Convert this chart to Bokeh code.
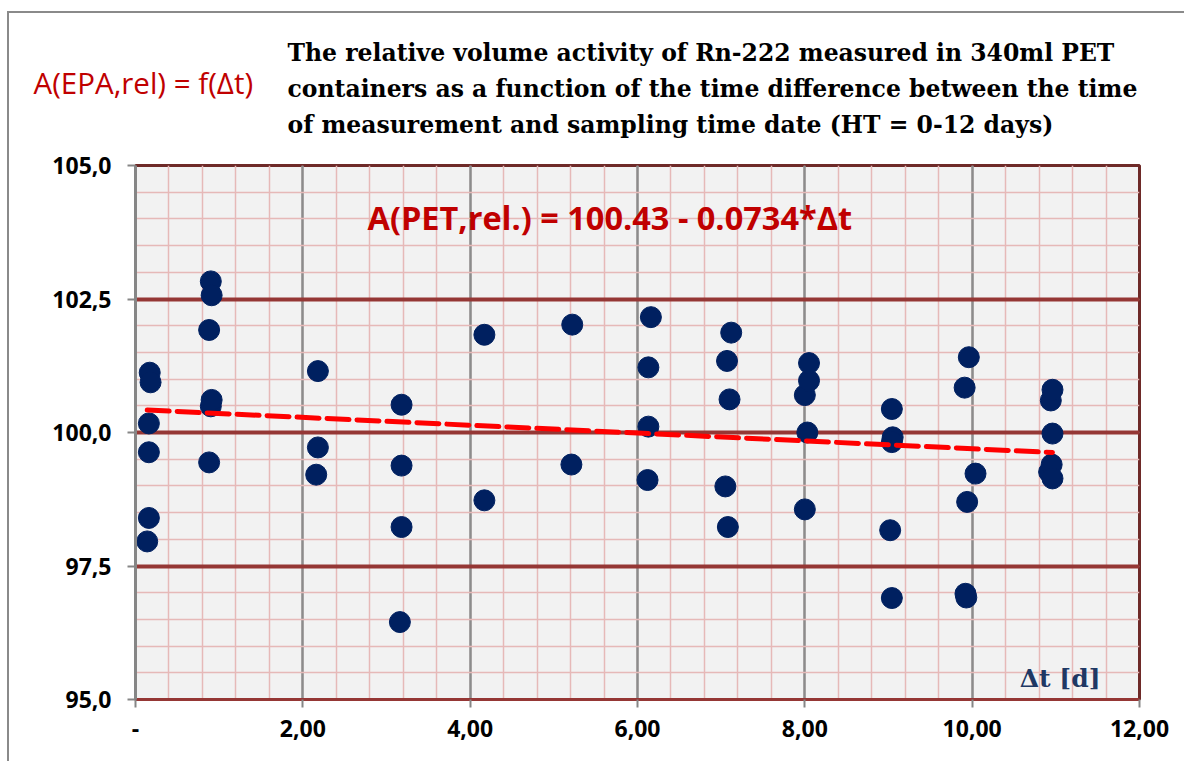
from bokeh.plotting import figure
from bokeh.layouts import column, row
from bokeh.models import Range1d, SingleIntervalTicker, Label, ColumnDataSource
from bokeh.embed import file_html
from bokeh.resources import INLINE

# ---- data ----
dt = [0.14, 0.16, 0.16, 0.16, 0.17, 0.18,
      0.88, 0.88, 0.90, 0.91, 0.90, 0.91,
      2.16, 2.18, 2.18,
      3.16, 3.18, 3.18, 3.18,
      4.17, 4.17,
      5.21, 5.22,
      6.12, 6.13, 6.13, 6.16,
      7.05, 7.08, 7.10, 7.07, 7.12,
      8.00, 8.03, 8.00, 8.05, 8.05,
      9.02, 9.04, 9.04, 9.05, 9.04,
      9.92, 9.93, 9.94, 9.91, 9.96, 10.04,
      10.92, 10.95, 10.96, 10.96, 10.94, 10.96]
a_rel = [97.96, 98.40, 99.63, 100.17, 101.12, 100.94,
         99.44, 101.92, 100.49, 100.61, 102.83, 102.57,
         99.21, 99.72, 101.15,
         96.45, 98.23, 99.38, 100.52,
         98.73, 101.83,
         99.40, 102.02,
         99.11, 100.11, 101.22, 102.16,
         98.99, 98.23, 100.62, 101.34, 101.87,
         98.56, 100.00, 100.70, 100.97, 101.30,
         98.17, 96.90, 100.44, 99.91, 99.82,
         96.98, 96.91, 98.70, 100.84, 101.41, 99.23,
         99.26, 99.40, 99.14, 99.98, 100.60, 100.80]

fit_intercept = 100.43
fit_slope = -0.0734

x_tick_values = [0, 2, 4, 6, 8, 10, 12]
x_tick_labels = ["-", "2,00", "4,00", "6,00", "8,00", "10,00", "12,00"]
y_tick_values = [95, 97.5, 100, 102.5, 105]
y_tick_labels = ["95,0", "97,5", "100,0", "102,5", "105,0"]

title_lines = ["The relative volume activity of Rn-222 measured in 340ml PET",
               "containers as a function of the time difference between the time",
               "of measurement and sampling time date (HT = 0-12 days)"]
side_label = "A(EPA,rel) = f(\u0394t)"
eq_label = "A(PET,rel.) = 100.43 - 0.0734*\u0394t"
x_label = "\u0394t [d]"

W = 1175
HEAD_H = 128

# ---- header figure (titles) ----
head = figure(width=W, height=HEAD_H, x_range=Range1d(0, 1), y_range=Range1d(0, 1),
              x_axis_type=None, y_axis_type=None, output_backend="svg", toolbar_location=None,
              min_border=0)
head.outline_line_color = None
head.grid.visible = False
head.background_fill_color = "white"
head.border_fill_color = "white"

for i, t in enumerate(title_lines):
    head.add_layout(Label(x=278, y=89 - 36 * i, x_units="screen", y_units="screen", text=t,
                          text_font="DejaVu Serif", text_font_style="bold",
                          text_font_size="23.5px", text_color="black",
                          text_align="left", text_baseline="middle"))
head.add_layout(Label(x=24, y=59, x_units="screen", y_units="screen", text=side_label,
                      text_font="Open Sans", text_font_size="29.5px", text_color="#c00000",
                      text_align="left", text_baseline="middle"))

# ---- main figure ----
p = figure(width=W, height=620, x_range=Range1d(0, 12), y_range=Range1d(95, 105),
           output_backend="svg", toolbar_location=None,
           min_border_left=126, min_border_right=45, min_border_top=24, min_border_bottom=62)

p.background_fill_color = "#f2f2f2"
p.border_fill_color = "white"
p.outline_line_color = "#6e2a28"
p.outline_line_width = 3

xt = SingleIntervalTicker(interval=2, num_minor_ticks=5)
yt = SingleIntervalTicker(interval=2.5, num_minor_ticks=5)
p.xaxis.ticker = xt
p.yaxis.ticker = yt
p.xgrid.ticker = xt
p.ygrid.ticker = yt

p.xaxis.major_label_overrides = dict(zip(x_tick_values, x_tick_labels))
p.yaxis.major_label_overrides = dict(zip(y_tick_values, y_tick_labels))

p.xgrid.grid_line_color = "#8c8c8c"
p.xgrid.grid_line_width = 2.5
p.xgrid.minor_grid_line_color = "#e6b9b8"
p.xgrid.minor_grid_line_width = 1.5
p.ygrid.grid_line_color = "#953735"
p.ygrid.grid_line_width = 4
p.ygrid.minor_grid_line_color = "#e6b9b8"
p.ygrid.minor_grid_line_width = 1.5

for ax in (p.xaxis[0], p.yaxis[0]):
    ax.major_label_text_font = "Open Sans"
    ax.major_label_text_font_style = "bold"
    ax.major_label_text_font_size = "23px"
    ax.major_label_text_color = "black"
    ax.minor_tick_line_color = None
    ax.major_tick_line_color = "#868686"
    ax.major_tick_line_width = 2
    ax.major_tick_in = 0
    ax.major_tick_out = 8

p.yaxis.axis_line_color = "#868686"
p.yaxis.axis_line_width = 3
p.yaxis.major_label_standoff = 16
p.xaxis.axis_line_color = "#953735"
p.xaxis.axis_line_width = 3
p.xaxis.major_label_standoff = 12

# ---- data marks ----
src = ColumnDataSource(dict(x=dt, y=a_rel))
p.scatter("x", "y", source=src, size=21, fill_color="#002060", line_color="#002060")

x0, x1 = min(dt), max(dt)
p.line([x0, x1], [fit_intercept + fit_slope * x0, fit_intercept + fit_slope * x1],
       line_color="#ff0000", line_width=5, line_dash="22 8", line_cap="round")

# ---- in-plot texts ----
p.add_layout(Label(x=232, y=482, x_units="screen", y_units="screen", text=eq_label,
                   text_font="Open Sans", text_font_style="bold", text_font_size="32.5px",
                   text_color="#c00000", text_align="left", text_baseline="middle"))
p.add_layout(Label(x=965, y=21, x_units="screen", y_units="screen", text=x_label,
                   text_font="DejaVu Serif", text_font_style="bold", text_font_size="25px",
                   text_color="#1f3864", text_align="right", text_baseline="middle"))

layout = column(row(head), row(p), spacing=0)
layout.styles = {"margin-left": "7px", "margin-top": "11px",
                 "border-left": "2px solid #8a8a8a", "border-top": "2px solid #8a8a8a",
                 "border-right": "none", "border-bottom": "none"}

open("out.html", "w").write(file_html(layout, INLINE))
